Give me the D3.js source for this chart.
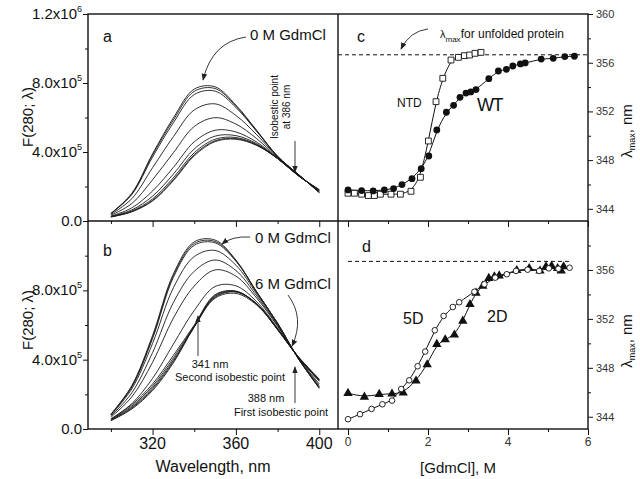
<!DOCTYPE html>
<html>
<head>
<meta charset="utf-8">
<script src="https://cdn.jsdelivr.net/npm/d3@7"></script>
<style>
body { margin: 0; background: #fff; }
text { font-family: Arial, "Liberation Sans", sans-serif; }
</style>
</head>
<body>
<div id="chart"></div>
<script>
//Width and height
var w = 640;
var h = 479;
//frame edges: left, middle, right, top, middle, bottom
var L = 88, M = 338, R = 588, T = 14, H = 221, B = 429;

//Spectra, panels a and b (fluorescence in units of 1e5)
var wavelengths = [300, 310, 320, 330, 340, 350, 360, 370, 380, 390, 400];

var spectraA = [
    [0.44, 1.60, 3.90, 5.98, 7.65, 7.78, 6.72, 5.25, 3.75, 2.70, 1.65],
    [0.43, 1.57, 3.82, 5.86, 7.52, 7.68, 6.66, 5.22, 3.75, 2.70, 1.65],
    [0.43, 1.53, 3.71, 5.70, 7.33, 7.53, 6.58, 5.19, 3.74, 2.69, 1.66],
    [0.38, 1.29, 3.09, 4.89, 6.44, 6.79, 6.12, 5.00, 3.71, 2.68, 1.70],
    [0.33, 1.01, 2.39, 3.96, 5.48, 5.99, 5.62, 4.77, 3.68, 2.66, 1.73],
    [0.28, 0.76, 1.74, 3.11, 4.59, 5.26, 5.16, 4.57, 3.65, 2.64, 1.77],
    [0.26, 0.64, 1.44, 2.72, 4.18, 4.92, 4.95, 4.48, 3.63, 2.63, 1.79],
    [0.25, 0.58, 1.28, 2.51, 3.96, 4.74, 4.84, 4.43, 3.62, 2.62, 1.80],
    [0.24, 0.55, 1.20, 2.40, 3.85, 4.65, 4.78, 4.40, 3.62, 2.62, 1.80],
    [0.23, 0.53, 1.16, 2.34, 3.78, 4.60, 4.74, 4.38, 3.62, 2.63, 1.82]
];

var spectraB = [
    [0.85, 2.50, 5.40, 8.95, 10.80, 10.90, 9.75, 7.90, 6.10, 4.05, 2.35],
    [0.84, 2.45, 5.30, 8.85, 10.70, 10.82, 9.72, 7.90, 6.10, 4.05, 2.37],
    [0.83, 2.42, 5.22, 8.75, 10.60, 10.74, 9.68, 7.88, 6.10, 4.06, 2.38],
    [0.80, 2.31, 4.94, 8.15, 9.95, 10.30, 9.45, 7.80, 6.05, 4.07, 2.43],
    [0.74, 2.08, 4.41, 7.30, 9.10, 9.75, 9.14, 7.68, 5.99, 4.08, 2.51],
    [0.68, 1.85, 3.85, 6.40, 8.25, 9.18, 8.82, 7.55, 5.93, 4.10, 2.60],
    [0.57, 1.46, 2.92, 4.90, 6.84, 8.22, 8.26, 7.34, 5.82, 4.13, 2.75],
    [0.58, 1.40, 2.60, 4.25, 6.00, 7.75, 7.95, 7.20, 5.72, 4.12, 2.78],
    [0.55, 1.32, 2.48, 4.10, 5.95, 7.70, 7.95, 7.22, 5.75, 4.14, 2.82],
    [0.52, 1.25, 2.38, 3.98, 5.92, 7.65, 7.92, 7.22, 5.76, 4.15, 2.84],
    [0.50, 1.20, 2.30, 3.90, 5.90, 7.60, 7.90, 7.20, 5.75, 4.15, 2.85],
    [0.48, 1.15, 2.22, 3.82, 5.88, 7.55, 7.82, 7.15, 5.75, 4.17, 2.88]
];

//lambda max vs [GdmCl], panels c and d
var wtConc = [0, 0.34, 0.63, 0.91, 1.14, 1.35, 1.6, 1.83, 2.02, 2.22, 2.46, 2.64, 2.8, 2.95, 3.07, 3.2, 3.52, 3.76, 3.96, 4.12, 4.31, 4.43, 4.83, 5.13, 5.42, 5.66];
var wtLmax = [345.55, 345.5, 345.47, 345.55, 345.66, 345.99, 346.48, 347.3, 348.34, 350.48, 351.93, 352.5, 353.16, 353.51, 353.6, 353.79, 354.69, 355.32, 355.46, 355.73, 355.9, 355.98, 356.3, 356.36, 356.5, 356.53];

var ntdConc = [0, 0.16, 0.34, 0.51, 0.66, 0.81, 1.075, 1.31, 1.575, 1.81, 2.01, 2.2, 2.37, 2.575, 2.76, 2.91, 3.04, 3.175, 3.325];
var ntdLmax = [345.28, 345.28, 345.2, 345.09, 345.09, 345.2, 345.2, 345.2, 345.44, 346.59, 349.57, 352.8, 354.72, 356.22, 356.44, 356.58, 356.63, 356.77, 356.85];

var d5Conc = [0, 0.3, 0.59, 0.86, 1.1, 1.33, 1.53, 1.74, 1.93, 2.17, 2.39, 2.62, 2.78, 3.16, 3.41, 3.68, 3.97, 4.2, 4.49, 4.78, 5.02, 5.26, 5.54];
var d5Lmax = [343.8, 344.21, 344.64, 345.02, 345.32, 346.27, 346.98, 348.13, 349.33, 351.07, 352.24, 352.97, 353.36, 354.22, 354.83, 355.37, 355.65, 355.92, 356.02, 355.92, 356.13, 356.1, 356.18];

var d2Conc = [0, 0.41, 0.78, 1.1, 1.38, 1.7, 1.98, 2.22, 2.43, 2.66, 2.87, 3.05, 3.2, 3.37, 3.52, 3.66, 3.78, 4.22, 4.53, 4.8, 4.95, 5.09, 5.24, 5.33, 5.39];
var d2Lmax = [345.92, 345.62, 345.84, 345.87, 345.95, 346.93, 348.26, 349.93, 350.31, 350.69, 351.83, 353.19, 354.12, 354.69, 355.32, 355.45, 355.53, 355.97, 356.13, 355.92, 356.27, 356.32, 356.13, 355.92, 356.27];

var unfoldedC = 356.65;   //dashed reference line
var unfoldedD = 356.7;

//ticks and tick labels
var fTicks = [0, 4, 8, 12];
var fMinor = [2, 6, 10];
var fLabels = [["0.0", ""], ["4.0x10", "5"], ["8.0x10", "5"], ["1.2x10", "6"]];
var wlTicks = [320, 360, 400];
var wlMinor = [300, 340, 380];
var lmTicks = [344, 348, 352, 356, 360];
var lmMinor = [346, 350, 354, 358];
var concTicks = [0, 2, 4, 6];
var concMinor = [1, 3, 5];

//Create SVG element
var svg = d3.select("#chart")
    .append("svg")
    .attr("width", w)
    .attr("height", h);

svg.append("rect").attr("width", w).attr("height", h).attr("fill", "white");

svg.append("defs").append("marker")
    .attr("id", "ah")
    .attr("viewBox", "0 0 10 10")
    .attr("refX", 9).attr("refY", 5)
    .attr("markerWidth", 7).attr("markerHeight", 7)
    .attr("markerUnits", "userSpaceOnUse")
    .attr("orient", "auto")
    .append("path")
    .attr("d", "M0,1 L10,5 L0,9 z")
    .attr("fill", "#222");

//Create scale functions
var xW = d3.scaleLinear().domain([289, 409]).range([L, M]);
var yA = d3.scaleLinear().domain([0, 12]).range([H, T]);
var yB = d3.scaleLinear().domain([0, 12]).range([B, H]);
var xG = d3.scaleLinear().domain([-0.25, 6]).range([M, R]);
var yC = d3.scaleLinear().domain([343, 360]).range([H, T]);
var yD = d3.scaleLinear().domain([343, 360]).range([B, H]);

//tick marks, no labels (labels added below)
function tickMarks(axisFn, scale, vals, size, transform) {
    svg.append("g")
        .attr("transform", transform)
        .call(axisFn(scale).tickValues(vals).tickSize(size).tickFormat(""))
        .call(function (g) { g.select(".domain").remove(); })
        .selectAll("line").attr("stroke", "#111").attr("stroke-width", 1);
}

tickMarks(d3.axisLeft, yA, fTicks, 5, "translate(" + L + ",0)");
tickMarks(d3.axisLeft, yA, fMinor, 3, "translate(" + L + ",0)");
tickMarks(d3.axisLeft, yB, fTicks.slice(0, 3), 5, "translate(" + L + ",0)");
tickMarks(d3.axisLeft, yB, fMinor, 3, "translate(" + L + ",0)");
tickMarks(d3.axisBottom, xW, wlTicks, 6, "translate(0," + H + ")");
tickMarks(d3.axisBottom, xW, wlMinor, 3, "translate(0," + H + ")");
tickMarks(d3.axisBottom, xW, wlTicks, 6, "translate(0," + B + ")");
tickMarks(d3.axisBottom, xW, wlMinor, 3, "translate(0," + B + ")");
tickMarks(d3.axisRight, yC, lmTicks, 5, "translate(" + R + ",0)");
tickMarks(d3.axisRight, yC, lmMinor, 3, "translate(" + R + ",0)");
tickMarks(d3.axisRight, yD, lmTicks.slice(0, 4), 5, "translate(" + R + ",0)");
tickMarks(d3.axisRight, yD, lmMinor, 3, "translate(" + R + ",0)");
tickMarks(d3.axisBottom, xG, concTicks, 6, "translate(0," + H + ")");
tickMarks(d3.axisBottom, xG, concMinor, 3, "translate(0," + H + ")");
tickMarks(d3.axisBottom, xG, concTicks, 6, "translate(0," + B + ")");
tickMarks(d3.axisBottom, xG, concMinor, 3, "translate(0," + B + ")");

//left tick labels with superscripts
function fLabelSet(yScale, n) {
    var t = svg.append("g").selectAll("text")
        .data(fTicks.slice(0, n))
        .enter()
        .append("text")
        .attr("x", L - 6)
        .attr("y", function (d) { return yScale(d) + 5; })
        .attr("text-anchor", "end")
        .attr("font-size", "15px")
        .attr("fill", "#111");
    t.append("tspan").text(function (d, i) { return fLabels[i][0]; });
    t.append("tspan")
        .attr("dy", -7)
        .attr("font-size", "9px")
        .text(function (d, i) { return fLabels[i][1]; });
}
fLabelSet(yA, 4);
fLabelSet(yB, 3);

svg.append("g").selectAll("text")
    .data(wlTicks)
    .enter()
    .append("text")
    .attr("x", function (d) { return xW(d); })
    .attr("y", B + 20)
    .attr("text-anchor", "middle")
    .attr("font-size", "16px")
    .attr("fill", "#111")
    .text(function (d) { return d; });

function lmLabelSet(yScale, vals) {
    svg.append("g").selectAll("text")
        .data(vals)
        .enter()
        .append("text")
        .attr("x", R + 8)
        .attr("y", function (d) { return yScale(d) + 4; })
        .attr("font-size", "11px")
        .attr("fill", "#333")
        .text(function (d) { return d; });
}
lmLabelSet(yC, lmTicks);
lmLabelSet(yD, lmTicks.slice(0, 4));

svg.append("g").selectAll("text")
    .data(concTicks)
    .enter()
    .append("text")
    .attr("x", function (d) { return xG(d); })
    .attr("y", B + 17)
    .attr("text-anchor", "middle")
    .attr("font-size", "12px")
    .attr("fill", "#333")
    .text(function (d) { return d; });

//spectra
function spectra(data, yScale) {
    var line = d3.line()
        .x(function (d, i) { return xW(wavelengths[i]); })
        .y(function (d) { return yScale(d); })
        .curve(d3.curveCatmullRom.alpha(0.5));
    svg.append("g").selectAll("path")
        .data(data)
        .enter()
        .append("path")
        .attr("d", line)
        .attr("fill", "none")
        .attr("stroke", "#1a1a1a")
        .attr("stroke-width", 0.9);
}
spectra(spectraA, yA);
spectra(spectraB, yB);

//lambda max curves
function series(xs, ys, yScale) {
    var pts = xs.map(function (x, i) { return [x, ys[i]]; });
    var line = d3.line()
        .x(function (d) { return xG(d[0]); })
        .y(function (d) { return yScale(d[1]); })
        .curve(d3.curveBasis);
    svg.append("path")
        .attr("d", line(pts))
        .attr("fill", "none")
        .attr("stroke", "#111")
        .attr("stroke-width", 1);
    return pts;
}

//dashed lines for unfolded protein
svg.append("line")
    .attr("x1", M).attr("x2", R)
    .attr("y1", yC(unfoldedC)).attr("y2", yC(unfoldedC))
    .attr("stroke", "#111").attr("stroke-dasharray", "4,3");
svg.append("line")
    .attr("x1", xG(0)).attr("x2", xG(5.55))
    .attr("y1", yD(unfoldedD)).attr("y2", yD(unfoldedD))
    .attr("stroke", "#111").attr("stroke-dasharray", "4,3");

var wtPts = series(wtConc, wtLmax, yC);
var ntdPts = series(ntdConc, ntdLmax, yC);
var d5Pts = series(d5Conc, d5Lmax, yD);
var d2Pts = series(d2Conc, d2Lmax, yD);

svg.append("g").selectAll("path")
    .data(ntdPts)
    .enter()
    .append("path")
    .attr("transform", function (d) { return "translate(" + xG(d[0]) + "," + yC(d[1]) + ")"; })
    .attr("d", d3.symbol(d3.symbolSquare).size(34))
    .attr("fill", "white")
    .attr("stroke", "#111")
    .attr("stroke-width", 0.9);

svg.append("g").selectAll("circle")
    .data(wtPts)
    .enter()
    .append("circle")
    .attr("cx", function (d) { return xG(d[0]); })
    .attr("cy", function (d) { return yC(d[1]); })
    .attr("r", 3.4)
    .attr("fill", "#111");

svg.append("g").selectAll("path")
    .data(d2Pts)
    .enter()
    .append("path")
    .attr("transform", function (d) { return "translate(" + xG(d[0]) + "," + yD(d[1]) + ")"; })
    .attr("d", d3.symbol(d3.symbolTriangle).size(38))
    .attr("fill", "#111");

svg.append("g").selectAll("circle")
    .data(d5Pts)
    .enter()
    .append("circle")
    .attr("cx", function (d) { return xG(d[0]); })
    .attr("cy", function (d) { return yD(d[1]); })
    .attr("r", 2.8)
    .attr("fill", "white")
    .attr("stroke", "#111")
    .attr("stroke-width", 0.9);

//frame
svg.append("rect")
    .attr("x", L).attr("y", T)
    .attr("width", R - L).attr("height", B - T)
    .attr("fill", "none").attr("stroke", "#111").attr("stroke-width", 1.4);
svg.append("line").attr("x1", M).attr("x2", M).attr("y1", T).attr("y2", B)
    .attr("stroke", "#111").attr("stroke-width", 1.4);
svg.append("line").attr("x1", L).attr("x2", R).attr("y1", H).attr("y2", H)
    .attr("stroke", "#111").attr("stroke-width", 1.4);

//text helper
function label(x, y, txt, size, anchor) {
    return svg.append("text")
        .attr("x", x).attr("y", y)
        .attr("text-anchor", anchor || "start")
        .attr("font-size", size + "px")
        .attr("fill", "#111")
        .text(txt);
}
function arrow(d) {
    svg.append("path")
        .attr("d", d)
        .attr("fill", "none")
        .attr("stroke", "#222")
        .attr("stroke-width", 0.9)
        .attr("marker-end", "url(#ah)");
}

//panel letters
label(103, 42, "a", 16);
label(103, 256, "b", 16);
label(357, 42, "c", 16);
label(362, 252, "d", 16);

//panel a notes
label(250, 40, "0 M GdmCl", 15);
arrow("M246,37 Q212,42 203,80");
svg.append("text")
    .attr("transform", "translate(278,107) rotate(-90)")
    .attr("text-anchor", "middle")
    .attr("font-size", "10px")
    .attr("fill", "#111")
    .selectAll("tspan")
    .data(["Isobestic point", "at 386 nm"])
    .enter()
    .append("tspan")
    .attr("x", 0)
    .attr("dy", function (d, i) { return i * 12; })
    .text(function (d) { return d; });
arrow("M295,141 L295,172");

//panel b notes
label(255, 243, "0 M GdmCl", 15);
arrow("M250,237 Q232,236 222,244");
label(255, 289, "6 M GdmCl", 15);
arrow("M288,295 Q305,318 292,346");
label(210, 368, "341 nm", 11, "middle");
label(230, 381, "Second isobestic point", 11, "middle");
arrow("M198,356 L198,316");
label(266, 402, "388 nm", 11, "middle");
label(281, 416, "First isobestic point", 11, "middle");
arrow("M295,403 L295,367");

//panel c notes
var lt = label(440, 38, "\u03bb", 11);
lt.append("tspan").attr("font-size", "8px").attr("dy", 4).text("max");
lt.append("tspan").attr("font-size", "12px").attr("dy", -4).text("for unfolded protein");
arrow("M428,29 Q410,31 401,49");
label(397, 107, "NTD", 12);
svg.append("text")
    .attr("x", 477).attr("y", 111)
    .attr("font-size", "18px")
    .attr("letter-spacing", "-1.5px")
    .attr("fill", "#111")
    .text("WT");

//panel d notes
label(403, 324, "5D", 16);
label(487, 322, "2D", 16);

//axis titles
svg.append("text")
    .attr("transform", "translate(33,117) rotate(-90)")
    .attr("text-anchor", "middle")
    .attr("font-size", "15px")
    .attr("fill", "#111")
    .text("F(280; \u03bb)");
svg.append("text")
    .attr("transform", "translate(33,320) rotate(-90)")
    .attr("text-anchor", "middle")
    .attr("font-size", "15px")
    .attr("fill", "#111")
    .text("F(280; \u03bb)");
label(213, 472, "Wavelength, nm", 16, "middle");
label(458, 473, "[GdmCl], M", 15, "middle");

function lmTitle(cy) {
    var t = svg.append("text")
        .attr("transform", "translate(632," + cy + ") rotate(-90)")
        .attr("text-anchor", "middle")
        .attr("font-size", "15px")
        .attr("fill", "#111");
    t.append("tspan").text("\u03bb");
    t.append("tspan").attr("font-size", "9px").attr("dy", 3).text("max");
    t.append("tspan").attr("dy", -3).text(", nm");
}
lmTitle(131);
lmTitle(341);
</script>
</body>
</html>
